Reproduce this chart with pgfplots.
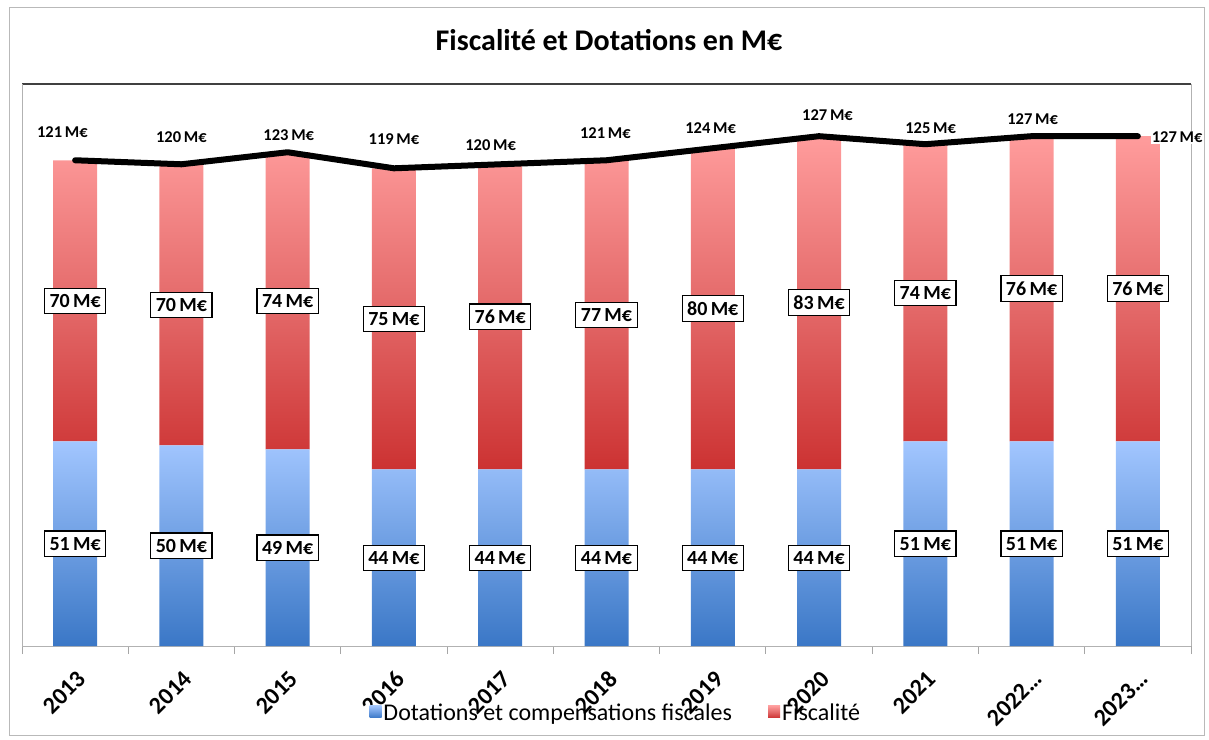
\documentclass[border=0pt]{standalone}
\usepackage{pgfplots}
\pgfplotsset{compat=1.18}
\usepackage{pgfplotstable}
\usepackage{fontspec}
\setmainfont{Carlito}

\definecolor{bluedark}{HTML}{3A77C6}
\definecolor{bluelight}{HTML}{A2C6FF}
\definecolor{reddark}{HTML}{CC3232}
\definecolor{redmid}{HTML}{E46A6A}
\definecolor{redlight}{HTML}{FF9C9C}

\pgfplotstableread{
x dot fis tot
0 51 70 121
1 50 70 120
2 49 74 123
3 44 75 119
4 44 76 120
5 44 77 121
6 44 80 124
7 44 83 127
8 51 74 125
9 51 76 127
10 51 76 127
}\data

\pgfplotstableread{
x y v
0 25.5 51
1 25 50
2 24.5 49
3 22 44
4 22 44
5 22 44
6 22 44
7 22 44
8 25.5 51
9 25.5 51
10 25.5 51
}\dotlab

\pgfplotstableread{
x y v
0 86 70
1 85 70
2 86 74
3 81.5 75
4 82 76
5 82.5 77
6 84 80
7 85.5 83
8 88 74
9 89 76
10 89 76
}\fislab

\pgfplotstableread{
x y v
-0.12 128.0 121
1.0 126.7 120
2.01 127.2 123
3.0 126.2 119
3.91 124.7 120
4.99 127.7 121
5.98 129.0 124
7.08 132.2 127
8.05 129.0 125
9.01 131.2 127
10.37 126.7 127
}\totlab

\begin{document}
\begin{tikzpicture}[x=1pt,y=1pt]
\useasboundingbox (0,0) rectangle (1209,739);
\draw[gray!55, line width=1pt] (9,4) rectangle (1204,731);
\node[font=\bfseries\fontsize{30}{34}\selectfont] at (609,699) {Fiscalité et Dotations en M€};

\begin{axis}[
  at={(22pt,93pt)}, anchor=south west,
  scale only axis, width=1169pt, height=562pt,
  xmin=-0.5, xmax=10.5, ymin=0, ymax=140,
  ybar stacked, bar width=44pt,
  axis x line*=bottom, axis y line=none,
  ytick=\empty,
  xtick={0,...,10},
  xticklabels={2013,2014,2015,2016,2017,2018,2019,2020,2021,2022…,2023…},
  major x tick style={draw=none},
  minor xtick={-0.5,0.5,1.5,2.5,3.5,4.5,5.5,6.5,7.5,8.5,9.5,10.5},
  minor tick length=8pt,
  tick align=outside,
  minor x tick style={gray!70, line width=1pt},
  x axis line style={draw=gray!60, line width=1pt},
  x tick label style={rotate=45, anchor=north east, inner sep=0pt,
    font=\bfseries\fontsize{24}{24}\selectfont, xshift=-13pt, yshift=-14pt},
  legend style={at={(0.508,-0.119)}, anchor=center, draw=none, fill=none,
    legend columns=2, font=\fontsize{24}{27}\selectfont,
    /tikz/every even column/.append style={column sep=34pt}},
  legend image code/.code={\path[#1] (-4pt,-5pt) rectangle (8pt,7pt);},
  clip=false,
]
\addplot[draw=none, top color=bluelight, bottom color=bluedark] table[x=x, y=dot] {\data};
\addlegendentry{Dotations et compensations fiscales}
\addplot[draw=none, top color=redlight, bottom color=reddark, middle color=redmid] table[x=x, y=fis] {\data};
\addlegendentry{Fiscalité}
\draw[gray!60, line width=1pt] (axis cs:-0.5,0) -- (axis cs:-0.5,140);
\draw[gray!60, line width=1pt] (axis cs:10.5,0) -- (axis cs:10.5,140);
\draw[black!75, line width=1.3pt] (axis cs:-0.5,140) -- (axis cs:10.5,140);
\end{axis}

\begin{axis}[
  at={(22pt,93pt)}, anchor=south west,
  scale only axis, width=1169pt, height=562pt,
  xmin=-0.5, xmax=10.5, ymin=0, ymax=140,
  hide axis, clip=false,
]
\addplot[black, line width=6pt, line join=round, line cap=round, mark=none] table[x=x, y=tot] {\data};
\addplot[only marks, mark=none, point meta=explicit symbolic,
  nodes near coords={\pgfplotspointmeta\,M€},
  every node near coord/.append style={anchor=center, draw=black, line width=1.2pt, fill=white,
    font=\bfseries\fontsize{20}{20}\selectfont, inner xsep=5pt, inner ysep=6pt, text=black}]
  table[x=x, y=y, meta=v] {\dotlab};
\addplot[only marks, mark=none, point meta=explicit symbolic,
  nodes near coords={\pgfplotspointmeta\,M€},
  every node near coord/.append style={anchor=center, draw=black, line width=1.2pt, fill=white,
    font=\bfseries\fontsize{20}{20}\selectfont, inner xsep=5pt, inner ysep=6pt, text=black}]
  table[x=x, y=y, meta=v] {\fislab};
\addplot[only marks, mark=none, point meta=explicit symbolic,
  nodes near coords={\pgfplotspointmeta\,M€},
  every node near coord/.append style={anchor=center, fill=white, inner sep=1pt,
    font=\bfseries\fontsize{16.5}{16.5}\selectfont, text=black}]
  table[x=x, y=y, meta=v] {\totlab};
\end{axis}
\end{tikzpicture}
\end{document}
